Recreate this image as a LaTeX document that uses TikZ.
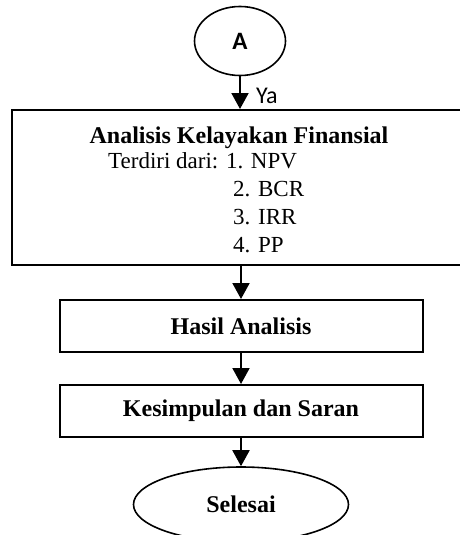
\documentclass[tikz,border=0pt]{standalone}
\usepackage{fontspec}
\setmainfont{Liberation Serif}
\newfontfamily\calibri{Carlito}
\usetikzlibrary{shapes.geometric,arrows.meta}

\begin{document}
\begin{tikzpicture}[x=1pt,y=-1pt,
        box/.style={draw,line width=2pt,minimum width=363pt,minimum height=52pt,font=\fontsize{24}{28}\selectfont\bfseries},
        oval/.style={draw,ellipse,line width=1.6pt,inner sep=0pt},
        teks/.style={anchor=base west,inner sep=0pt,font=\fontsize{23}{28}\selectfont},
        flow/.style={line width=2pt,-{Triangle[width=17pt,length=16pt]}}]
        \useasboundingbox (0,0) rectangle (460,535);
        \node[oval,minimum width=91pt,minimum height=69pt,font=\calibri\fontsize{25}{28}\selectfont\bfseries] (start) at (240,41) {A};
        \node[draw,line width=2pt,minimum width=452pt,minimum height=155pt] (analisis) at (238,187.5) {};
        \node[anchor=base,inner sep=0pt,font=\fontsize{24}{28}\selectfont\bfseries] (judul) at (239,143) {Analisis Kelayakan Finansial};
        \node[teks] (terdiri) at (108,168) {Terdiri dari: 1. NPV};
        \foreach \i/\t in {2/BCR,3/IRR,4/PP}
            \node[teks] (item\i) at (233,{168+28*(\i-1)}) {\i. \t};
        \node[box] (hasil) at (241,326) {Hasil Analisis};
        \node[box] (saran) at (241,411) {Kesimpulan dan Saran};
        \node[oval,minimum width=215pt,minimum height=75pt,font=\fontsize{24}{28}\selectfont\bfseries] (selesai) at (241,504.5) {Selesai};
        \draw[flow] (start.south) -- (start.south |- analisis.north) node[pos=0.6,right=15pt,inner sep=0pt,font=\calibri\fontsize{24}{28}\selectfont] (ya) {Ya};
        \draw[flow] (hasil.north |- analisis.south) -- (hasil.north);
        \draw[flow] (hasil.south) -- (saran.north);
        \draw[flow] (saran.south) -- (selesai.north);
    \end{tikzpicture}
\end{document}
